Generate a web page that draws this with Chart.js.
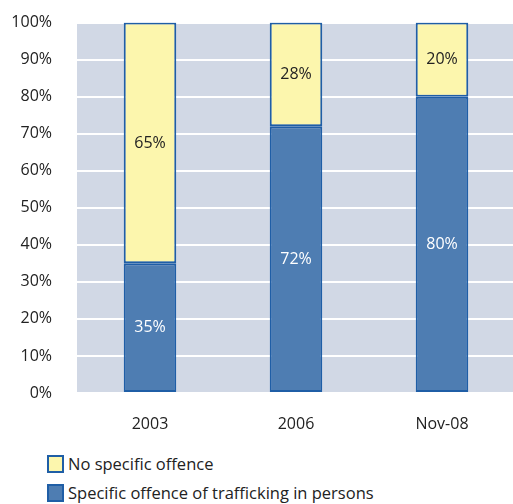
<!DOCTYPE html>
<html>
<head>
<meta charset="utf-8">
<script src="https://cdn.jsdelivr.net/npm/chart.js@4.4.1/dist/chart.umd.min.js"></script>
<style>
    html, body { margin: 0; padding: 0; background: #fff; overflow: hidden; }
    #wrap { position: relative; width: 515px; height: 452px; margin-top: -12px; }
    #legend { position: absolute; left: 47px; top: 449px; font-family: "Open Sans", sans-serif; font-size: 16.5px; color: #222; }
    .item { display: flex; align-items: center; height: 29px; }
    .box { width: 13px; height: 14px; border: 2px solid #1f5ea6; margin-right: 4px; }
</style>
</head>
<body>
<div id="wrap"><canvas id="chart"></canvas></div>
<div id="legend"></div>
<script>
// Chart data
const categories = ['2003', '2006', 'Nov-08'];
const specificOffence = [35, 72, 80];
const noSpecificOffence = [65, 28, 20];
const yTicks = [0, 10, 20, 30, 40, 50, 60, 70, 80, 90, 100];

const seriesNames = ['Specific offence of trafficking in persons', 'No specific offence'];
const seriesColors = ['#4e7db2', '#fcf6ad'];
const labelColors = ['#ffffff', '#222222'];
const borderColor = '#1f5ea6';

// plot background
const plotBackground = {
    id: 'plotBackground',
    beforeDraw(chart) {
        const { ctx, chartArea } = chart;
        ctx.save();
        ctx.fillStyle = '#d1d8e5';
        ctx.fillRect(chartArea.left, chartArea.top, chartArea.right - chartArea.left, chartArea.bottom - chartArea.top);
        ctx.restore();
    }
};

// value labels in the middle of each segment
const segmentLabels = {
    id: 'segmentLabels',
    afterDatasetsDraw(chart) {
        const { ctx } = chart;
        ctx.save();
        ctx.font = '16px "Open Sans", sans-serif';
        ctx.textAlign = 'center';
        ctx.textBaseline = 'middle';
        chart.data.datasets.forEach((ds, i) => {
            const meta = chart.getDatasetMeta(i);
            meta.data.forEach((bar, j) => {
                const y = (bar.y + bar.base) / 2;
                ctx.fillStyle = labelColors[i];
                ctx.fillText(ds.data[j] + '%', bar.x, y);
            });
        });
        ctx.restore();
    }
};

const chart = new Chart(document.getElementById('chart'), {
    type: 'bar',
    data: {
        labels: categories,
        datasets: [
            { label: seriesNames[0], data: specificOffence, backgroundColor: seriesColors[0] },
            { label: seriesNames[1], data: noSpecificOffence, backgroundColor: seriesColors[1] }
        ].map(ds => Object.assign(ds, {
            borderColor: borderColor,
            borderWidth: 2,
            borderSkipped: false,
            barPercentage: 0.36,
            categoryPercentage: 1
        }))
    },
    options: {
        responsive: true,
        maintainAspectRatio: false,
        animation: false,
        layout: { padding: { top: 13, left: 0, right: 0, bottom: 0 } },
        plugins: { legend: { display: false }, tooltip: { enabled: false } },
        scales: {
            x: {
                stacked: true,
                grid: { display: false, drawTicks: false },
                border: { display: false },
                ticks: { color: '#222', padding: 22, font: { family: 'Open Sans', size: 16 } },
                afterFit(scale) { scale.height = 47; }
            },
            y: {
                stacked: true,
                min: 0,
                max: 100,
                afterBuildTicks(scale) { scale.ticks = yTicks.map(v => ({ value: v })); },
                grid: { color: '#ffffff', lineWidth: 2, drawTicks: false },
                border: { display: false },
                ticks: {
                    color: '#222',
                    padding: 25,
                    font: { family: 'Open Sans', size: 16 },
                    callback: v => v + '%'
                },
                afterFit(scale) { scale.width = 77; }
            }
        }
    },
    plugins: [plotBackground, segmentLabels]
});

// legend, top entry is the upper stack segment
const legend = document.getElementById('legend');
[1, 0].forEach(i => {
    const item = document.createElement('div');
    item.className = 'item';
    item.innerHTML = `<span class="box" style="background:${seriesColors[i]}"></span>${seriesNames[i]}`;
    legend.appendChild(item);
});
</script>
</body>
</html>
